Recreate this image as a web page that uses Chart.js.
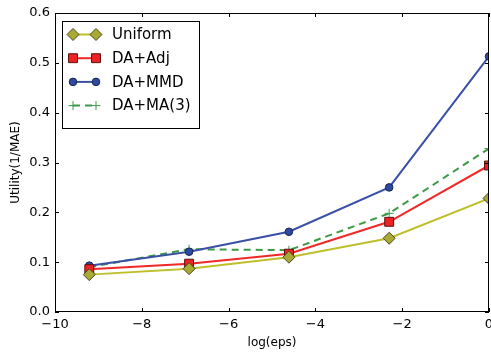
<!DOCTYPE html>
<html>
<head>
<meta charset="utf-8">
<script src="https://cdn.jsdelivr.net/npm/chart.js@4"></script>
<style>
  html, body { margin: 0; padding: 0; background: #fff; }
  #wrap { width: 491px; height: 354px; }
</style>
</head>
<body>
<div id="wrap"><canvas id="c" width="491" height="354"></canvas></div>
<script>
// log(eps) cho các mức eps = 1e-4, 1e-3, 1e-2, 1e-1, 1
const logEps = [-9.21, -6.91, -4.61, -2.30, 0];
const uniformVals = [0.075, 0.087, 0.110, 0.148, 0.228];
const adjVals = [0.086, 0.097, 0.117, 0.181, 0.294];
const mmdVals = [0.093, 0.121, 0.161, 0.250, 0.513];
const ma3Vals = [0.090, 0.126, 0.124, 0.198, 0.328];
const xTicks = [-10, -8, -6, -4, -2, 0];
const yTicks = [0, 0.1, 0.2, 0.3, 0.4, 0.5, 0.6];

const FONT = 'DejaVu Sans';

function toPoints(vals) {
    return vals.map((v, i) => ({ x: logEps[i], y: v }));
}

// kẻ khung + vạch chia hướng vào trong (kiểu matplotlib cũ)
const framePlugin = {
    id: 'frame',
    afterDraw(chart) {
        const { ctx, chartArea: a, scales } = chart;
        ctx.save();
        ctx.strokeStyle = '#000';
        ctx.lineWidth = 1;
        ctx.beginPath();
        xTicks.forEach(t => {
            const px = Math.round(scales.x.getPixelForValue(t)) + 0.5;
            ctx.moveTo(px, a.bottom); ctx.lineTo(px, a.bottom - 4);
            ctx.moveTo(px, a.top); ctx.lineTo(px, a.top + 4);
        });
        yTicks.forEach(t => {
            const py = Math.round(scales.y.getPixelForValue(t)) + 0.5;
            ctx.moveTo(a.left, py); ctx.lineTo(a.left + 4, py);
            ctx.moveTo(a.right, py); ctx.lineTo(a.right - 4, py);
        });
        ctx.stroke();
        ctx.strokeRect(Math.round(a.left) + 0.5, Math.round(a.top) + 0.5,
            Math.round(a.right - a.left) - 1, Math.round(a.bottom - a.top) - 1);
        ctx.restore();
    }
};

// chú thích có viền, mỗi mục vẽ đoạn thẳng + 2 điểm
const legendPlugin = {
    id: 'boxLegend',
    afterDraw(chart) {
        const { ctx } = chart;
        const x0 = 62, y0 = 21, w = 137, h = 107;
        ctx.save();
        ctx.fillStyle = '#fff';
        ctx.fillRect(x0, y0, w, h);
        ctx.strokeStyle = '#000';
        ctx.lineWidth = 1;
        ctx.strokeRect(x0 + 0.5, y0 + 0.5, w, h);
        ctx.font = '15px "' + FONT + '"';
        ctx.textBaseline = 'middle';
        chart.data.datasets.forEach((ds, i) => {
            const cy = y0 + 13.5 + i * 23.7;
            ctx.strokeStyle = ds.borderColor;
            ctx.lineWidth = ds.borderWidth;
            ctx.setLineDash(ds.borderDash || []);
            ctx.beginPath();
            ctx.moveTo(73, cy); ctx.lineTo(96, cy);
            ctx.stroke();
            ctx.setLineDash([]);
            [73, 96].forEach(px => {
                // đặt màu trước khi vẽ điểm
                ctx.fillStyle = ds.pointBackgroundColor;
                ctx.strokeStyle = ds.pointBorderColor;
                ctx.lineWidth = ds.pointBorderWidth;
                Chart.helpers.drawPoint(ctx, {
                    pointStyle: ds.pointStyle,
                    radius: ds.pointRadius,
                    borderWidth: ds.pointBorderWidth,
                    rotation: 0
                }, px, cy);
            });
            ctx.fillStyle = '#000';
            ctx.fillText(ds.label, 112, cy + 1);
        });
        ctx.restore();
    }
};

const datasets = [
    {
        label: 'Uniform',
        data: toPoints(uniformVals),
        borderColor: '#bfbf2c',
        backgroundColor: '#a9a935',
        pointBackgroundColor: '#a9a935',
        pointBorderColor: '#4a4a20',
        pointStyle: 'rectRot',
        pointRadius: 6,
        pointBorderWidth: 1,
        borderWidth: 2
    },
    {
        label: 'DA+Adj',
        data: toPoints(adjVals),
        borderColor: '#f02828',
        backgroundColor: '#ee2222',
        pointBackgroundColor: '#ee2222',
        pointBorderColor: '#5a1010',
        pointStyle: 'rect',
        pointRadius: 6.3,
        pointBorderWidth: 1,
        borderWidth: 2
    },
    {
        label: 'DA+MMD',
        data: toPoints(mmdVals),
        borderColor: '#3a4fa6',
        backgroundColor: '#2e4aa0',
        pointBackgroundColor: '#2e4aa0',
        pointBorderColor: '#1a2550',
        pointStyle: 'circle',
        pointRadius: 3.8,
        pointBorderWidth: 1,
        borderWidth: 2
    },
    {
        label: 'DA+MA(3)',
        data: toPoints(ma3Vals),
        borderColor: '#3c9a48',
        backgroundColor: '#3c9a48',
        pointBackgroundColor: '#3c9a48',
        pointBorderColor: '#3c9a48',
        pointStyle: 'cross',
        pointRadius: 4.5,
        pointBorderWidth: 1,
        borderWidth: 2,
        borderDash: [7, 5]
    }
];

new Chart(document.getElementById('c'), {
    type: 'line',
    data: { datasets: datasets.map(d => Object.assign({ clip: 0, tension: 0 }, d)) },
    options: {
        responsive: false,
        animation: false,
        devicePixelRatio: 1,
        layout: { autoPadding: false, padding: { left: 0, top: 13, right: 2, bottom: 0 } },
        plugins: {
            legend: { display: false },
            tooltip: { enabled: false }
        },
        scales: {
            x: {
                type: 'linear',
                min: -10,
                max: 0,
                afterFit(s) { s.height = 42; s.paddingLeft = 0; s.paddingRight = 0; },
                afterBuildTicks(s) { s.ticks = xTicks.map(v => ({ value: v })); },
                grid: { display: false, drawTicks: false },
                border: { display: false },
                ticks: {
                    padding: 5,
                    color: '#000',
                    font: { family: FONT, size: 13 },
                    callback: v => String(v).replace('-', '\u2212')
                },
                title: {
                    display: true,
                    text: 'log(eps)',
                    color: '#000',
                    font: { family: FONT, size: 12 },
                    padding: { top: 0, bottom: 4 }
                }
            },
            y: {
                min: 0,
                max: 0.6,
                afterFit(s) { s.width = 55; s.paddingTop = 0; s.paddingBottom = 0; },
                afterBuildTicks(s) { s.ticks = yTicks.map(v => ({ value: v })); },
                grid: { display: false, drawTicks: false },
                border: { display: false },
                ticks: {
                    padding: 5,
                    color: '#000',
                    font: { family: FONT, size: 13 },
                    callback: v => v.toFixed(1)
                },
                title: {
                    display: true,
                    text: 'Utility(1/MAE)',
                    color: '#000',
                    font: { family: FONT, size: 12 },
                    padding: { top: 9, bottom: 0 }
                }
            }
        }
    },
    plugins: [framePlugin, legendPlugin]
});
</script>
</body>
</html>
